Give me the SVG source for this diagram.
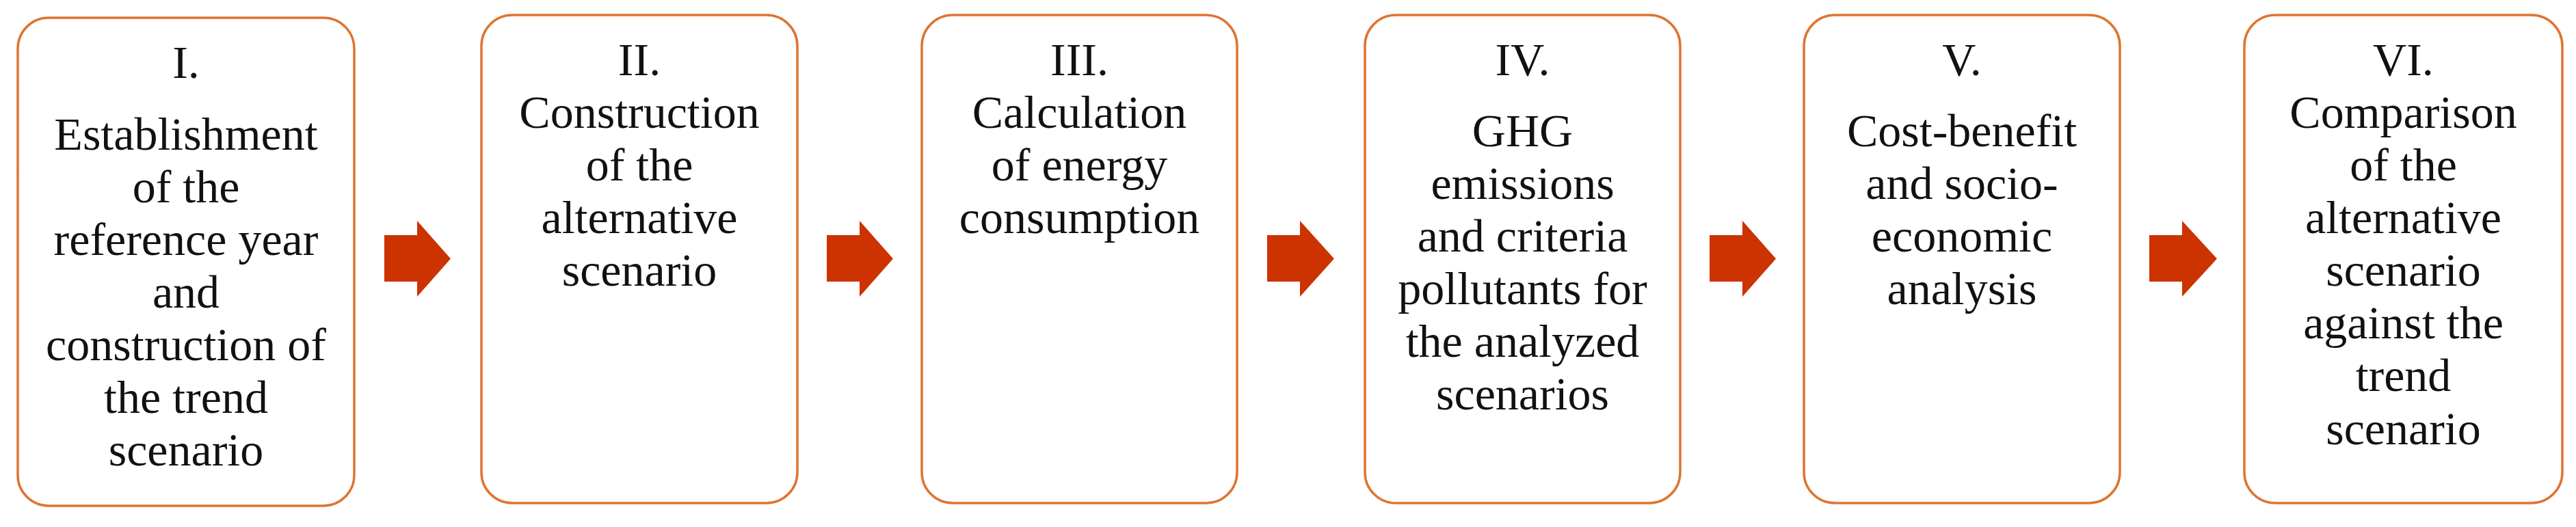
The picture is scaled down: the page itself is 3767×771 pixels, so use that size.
<svg xmlns="http://www.w3.org/2000/svg" width="3767" height="771" viewBox="0 0 3767 771">
<style>
.box{fill:#fff;stroke:#DE7431;stroke-width:3.5}
.t{font-family:"Liberation Serif","Times New Roman",serif;font-size:68px;fill:#111;text-anchor:middle}
.arr{fill:#CC3300}
</style>
<rect width="3767" height="771" fill="#fff"/>
<g id="connectors">
<polygon class="arr" points="562,344 610,344 610,323 659,378.5 610,434 610,412 562,412"/>
<polygon class="arr" points="1209,344 1257,344 1257,323 1306,378.5 1257,434 1257,412 1209,412"/>
<polygon class="arr" points="1853,344 1901,344 1901,323 1951,378.5 1901,434 1901,412 1853,412"/>
<polygon class="arr" points="2500,344 2548,344 2548,323 2597,378.5 2548,434 2548,412 2500,412"/>
<polygon class="arr" points="3143,344 3191,344 3191,323 3242,378.5 3191,434 3191,412 3143,412"/>
</g>
<g id="node1">
<rect class="box" x="26" y="26" width="492" height="714" rx="45"/>
<text class="t" x="272"><tspan x="272" y="114">I.</tspan><tspan x="272" y="219">Establishment</tspan><tspan x="272" y="296">of the</tspan><tspan x="272" y="373">reference year</tspan><tspan x="272" y="450">and</tspan><tspan x="272" y="527">construction of</tspan><tspan x="272" y="604">the trend</tspan><tspan x="272" y="681">scenario</tspan></text>
</g>
<g id="node2">
<rect class="box" x="704" y="22" width="462" height="714" rx="45"/>
<text class="t" x="935"><tspan x="935" y="110">II.</tspan><tspan x="935" y="187">Construction</tspan><tspan x="935" y="264">of the</tspan><tspan x="935" y="341">alternative</tspan><tspan x="935" y="418">scenario</tspan></text>
</g>
<g id="node3">
<rect class="box" x="1348" y="22" width="461" height="714" rx="45"/>
<text class="t" x="1578.5"><tspan x="1578.5" y="110">III.</tspan><tspan x="1578.5" y="187">Calculation</tspan><tspan x="1578.5" y="264">of energy</tspan><tspan x="1578.5" y="341">consumption</tspan></text>
</g>
<g id="node4">
<rect class="box" x="1996" y="22" width="461" height="714" rx="45"/>
<text class="t" x="2226.5"><tspan x="2226.5" y="110">IV.</tspan><tspan x="2226.5" y="214">GHG</tspan><tspan x="2226.5" y="291">emissions</tspan><tspan x="2226.5" y="368">and criteria</tspan><tspan x="2226.5" y="445">pollutants for</tspan><tspan x="2226.5" y="522">the analyzed</tspan><tspan x="2226.5" y="599">scenarios</tspan></text>
</g>
<g id="node5">
<rect class="box" x="2638" y="22" width="462" height="714" rx="45"/>
<text class="t" x="2869"><tspan x="2869" y="110">V.</tspan><tspan x="2869" y="214">Cost-benefit</tspan><tspan x="2869" y="291">and socio-</tspan><tspan x="2869" y="368">economic</tspan><tspan x="2869" y="445">analysis</tspan></text>
</g>
<g id="node6">
<rect class="box" x="3282" y="22" width="465" height="714" rx="45"/>
<text class="t" x="3514.5"><tspan x="3514.5" y="110">VI.</tspan><tspan x="3514.5" y="187">Comparison</tspan><tspan x="3514.5" y="264">of the</tspan><tspan x="3514.5" y="341">alternative</tspan><tspan x="3514.5" y="418">scenario</tspan><tspan x="3514.5" y="495">against the</tspan><tspan x="3514.5" y="572">trend</tspan><tspan x="3514.5" y="650">scenario</tspan></text>
</g>
</svg>
